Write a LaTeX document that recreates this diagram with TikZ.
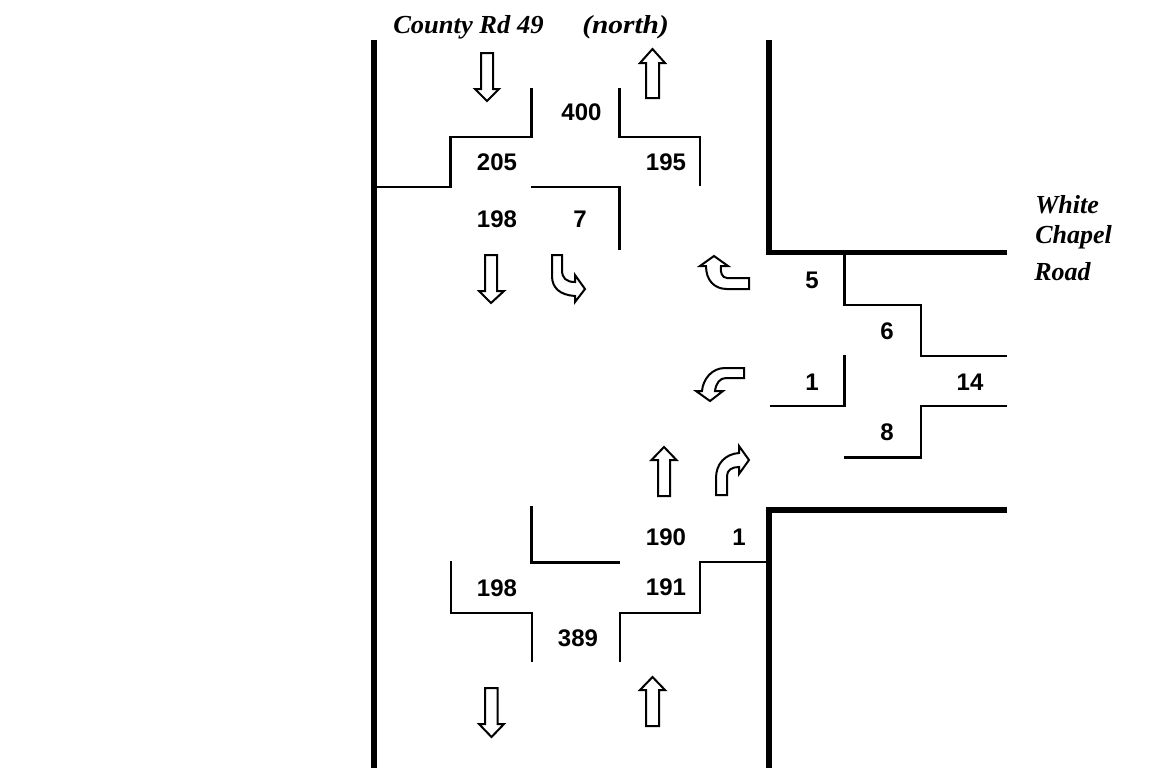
\documentclass[tikz,border=0pt]{standalone}
\usepackage{fontspec}
\setmainfont{Liberation Sans}
\newfontfamily\labelserif{Liberation Serif}
\tikzset{
  x=0.75pt,y=-0.75pt,
  road/.style={line width=4pt,line cap=butt,line join=miter},
  lane/.style={line width=2pt,line join=miter},
  flow/.style={line width=1.5pt,fill=white,line join=miter},
  num/.style={font=\fontsize{18pt}{20pt}\selectfont\bfseries,inner sep=0pt,anchor=center},
  title/.style={font=\fontsize{19.5pt}{22pt}\labelserif\bfseries\itshape,inner sep=0pt,anchor=base west}
}
\begin{document}
\begin{tikzpicture}
\useasboundingbox (0,0) rectangle (1156,775);
% roads
\draw[road] (374,40) -- (374,768);
\draw[road] (769,40) -- (769,252.5) -- (1007,252.5);
\draw[road] (1007,510) -- (769,510) -- (769,768);
% lanes
\draw[lane] (374,187) -- (450.5,187) -- (450.5,137) -- (531.5,137) -- (531.5,88);
\draw[lane] (619.5,88) -- (619.5,137) -- (700,137) -- (700,186);
\draw[lane] (531,187) -- (619.5,187) -- (619.5,250);
\draw[lane] (844.5,252) -- (844.5,305) -- (921,305) -- (921,356) -- (1007,356);
\draw[lane] (770,406) -- (844.5,406) -- (844.5,355);
\draw[lane] (1007,406) -- (921,406) -- (921,457.5) -- (844,457.5);
\draw[lane] (531.5,506) -- (531.5,562.5) -- (620,562.5);
\draw[lane] (451,561) -- (451,613) -- (532,613) -- (532,662);
\draw[lane] (620,662) -- (620,613) -- (700,613) -- (700,562) -- (770,562);
% straight arrows
\draw[flow] (481,53) -- (493,53) -- (493,89) -- (499,89) -- (487,101) -- (475,89) -- (481,89) -- cycle;
\draw[flow] (646,98) -- (659,98) -- (659,63) -- (665,63) -- (652.5,49) -- (640,63) -- (646,63) -- cycle;
\draw[flow] (485,255) -- (497,255) -- (497,291) -- (504,291) -- (491,303) -- (479,291) -- (485,291) -- cycle;
\draw[flow] (658,496) -- (670,496) -- (670,460) -- (676.5,460) -- (664,447) -- (651.5,460) -- (658,460) -- cycle;
\draw[flow] (485,688) -- (497.5,688) -- (497.5,724) -- (504,724) -- (491.5,737) -- (479,724) -- (485,724) -- cycle;
\draw[flow] (646,726) -- (659,726) -- (659,690) -- (665,690) -- (652.5,677) -- (640,690) -- (646,690) -- cycle;
% turning arrows
\draw[flow] (552,255) -- (562,255) -- (562,270) .. controls (562,278) and (566,282) .. (575,282) -- (575,275) -- (585,289) -- (575,302) -- (575,296) .. controls (560,295) and (552,288) .. (552,276) -- cycle;
\draw[flow] (749,278) -- (727,278) .. controls (722,278) and (720,272) .. (721,266) -- (728,266) -- (714,256) -- (700,266) -- (706,266) .. controls (706,280) and (714,289) .. (727,289) -- (749,289) -- cycle;
\draw[flow] (744,368) -- (725,368) .. controls (712,368) and (703,379) .. (702,391) -- (696,391) -- (710,401) -- (723,391) -- (715,391) .. controls (716,383) and (720,378) .. (726,378) -- (744,378) -- cycle;
\draw[flow] (716,495) -- (727,495) -- (727,476) .. controls (727,470) and (732,467) .. (739,467) -- (739,474) -- (749,460) -- (739,446) -- (739,453) .. controls (725,454) and (716,464) .. (716,478) -- cycle;
% numbers
\node[num] (n400) at (581.5,112) {400};
\node[num] (n205) at (497,162) {205};
\node[num] (n195) at (666,162) {195};
\node[num] (n198a) at (497,219) {198};
\node[num] (n7) at (580,219) {7};
\node[num] (n5) at (812,280) {5};
\node[num] (n6) at (887,331) {6};
\node[num] (n1a) at (812,382) {1};
\node[num] (n14) at (970,382) {14};
\node[num] (n8) at (887,432) {8};
\node[num] (n190) at (666,537) {190};
\node[num] (n1b) at (739,537) {1};
\node[num] (n198b) at (497,588) {198};
\node[num] (n191) at (666,587) {191};
\node[num] (n389) at (578,638) {389};
% titles
\node[title,xscale=1.02,transform shape] (county) at (393,33) {County Rd 49};
\node[title,xscale=1.13,transform shape] (north) at (582,33) {(north)};
\node[title] (white) at (1035,213) {White};
\node[title] (chapel) at (1035,243) {Chapel};
\node[title] (roadname) at (1034,280) {Road};
\end{tikzpicture}
\end{document}
